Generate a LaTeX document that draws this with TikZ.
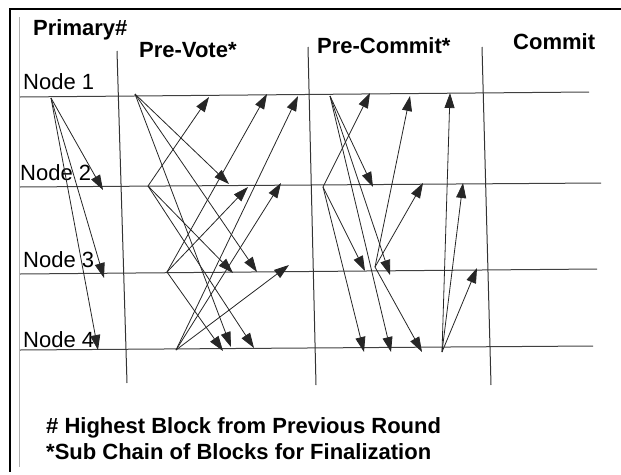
\documentclass[tikz,border=0pt]{standalone}
\usepackage{fontspec}
\setsansfont{Liberation Sans}
\usetikzlibrary{arrows.meta}

\begin{document}
\begin{tikzpicture}[
  x=1pt, y=-1pt,
  font=\sffamily\fontsize{22}{26}\selectfont,
  frame/.style={line width=1.2pt, draw=black},
  inner/.style={line width=1pt, draw=black!30},
  round/.style={line width=1pt, draw=black!75},
  phase/.style={line width=1pt, draw=black!80},
  msg/.style={-{Triangle[length=15pt,width=10pt]}, line width=0.8pt, draw=black!85},
  head/.style={anchor=base west, inner sep=0pt, font=\sffamily\bfseries\fontsize{22}{26}\selectfont},
  lbl/.style={anchor=base west, inner sep=0pt}
]
\useasboundingbox (0,0) rectangle (621,474);

% frame
\draw[frame] (621,9) -- (10,9) -- (10,472);
\draw[inner] (19,17) -- (19,467);

% round lines
\draw[round] (20,97) -- (589,92);
\draw[round] (20,187) -- (601,183);
\draw[round] (20,274) -- (597,269);
\draw[round] (20,350) -- (593,346);

% phase separators
\draw[phase] (117,51) -- (127,383);
\draw[phase] (308,47) -- (316,385);
\draw[phase] (482,47) -- (491,385);

% headings
\node[head] (primary) at (33,35) {Primary\#};
\node[head] (prevote) at (139,57) {Pre-Vote*};
\node[head] (precommit) at (317,53) {Pre-Commit*};
\node[head] (commit) at (513,49) {Commit};

\node[lbl] (n1) at (23,89) {Node 1};
\node[lbl] (n2) at (20,180) {Node 2};
\node[lbl] (n3) at (23,267) {Node 3};
\node[lbl] (n4) at (23,347) {Node 4};

% primary proposal
\coordinate (pr) at (51,98);
\coordinate (pr2) at (103,190);
\coordinate (pr3) at (104,278);
\coordinate (pr4) at (98,350);
\draw[msg] (pr) -- (pr2);
\draw[msg] (pr) -- (pr3);
\draw[msg] (pr) -- (pr4);

% pre-vote
\coordinate (pv1) at (135,94);
\coordinate (pv2) at (148,186);
\coordinate (pv3) at (167,272);
\coordinate (pv4) at (176,350);
\coordinate (pv12) at (229,184);
\coordinate (pv13) at (257,272);
\coordinate (pv14) at (231,347);
\coordinate (pv21) at (209,97);
\coordinate (pv23) at (233,273);
\coordinate (pv24) at (254,348);
\coordinate (pv31) at (267,94);
\coordinate (pv32) at (248,187);
\coordinate (pv34) at (223,351);
\coordinate (pv41) at (298,96);
\coordinate (pv42) at (281,183);
\coordinate (pv43) at (289,265);
\draw[msg] (pv1) -- (pv12);
\draw[msg] (pv1) -- (pv13);
\draw[msg] (pv1) -- (pv14);
\draw[msg] (pv2) -- (pv21);
\draw[msg] (pv2) -- (pv23);
\draw[msg] (pv2) -- (pv24);
\draw[msg] (pv3) -- (pv31);
\draw[msg] (pv3) -- (pv32);
\draw[msg] (pv3) -- (pv34);
\draw[msg] (pv4) -- (pv41);
\draw[msg] (pv4) -- (pv42);
\draw[msg] (pv4) -- (pv43);

% pre-commit
\coordinate (pc1) at (330,96);
\coordinate (pc2) at (323,187);
\coordinate (pc3) at (375,267);
\coordinate (pc4) at (442,352);
\coordinate (pc12) at (373,187);
\coordinate (pc13) at (390,275);
\coordinate (pc14) at (391,352);
\coordinate (pc21) at (370,93);
\coordinate (pc23) at (365,271);
\coordinate (pc24) at (364,352);
\coordinate (pc31) at (410,96);
\coordinate (pc32) at (423,183);
\coordinate (pc34) at (422,352);
\coordinate (pc41) at (450,93);
\coordinate (pc42) at (463,183);
\coordinate (pc43) at (477,268);
\draw[msg] (pc1) -- (pc12);
\draw[msg] (pc1) -- (pc13);
\draw[msg] (pc1) -- (pc14);
\draw[msg] (pc2) -- (pc21);
\draw[msg] (pc2) -- (pc23);
\draw[msg] (pc2) -- (pc24);
\draw[msg] (pc3) -- (pc31);
\draw[msg] (pc3) -- (pc32);
\draw[msg] (pc3) -- (pc34);
\draw[msg] (pc4) -- (pc41);
\draw[msg] (pc4) -- (pc42);
\draw[msg] (pc4) -- (pc43);

% legend
\node[head] (hash) at (46,433) {\# Highest Block from Previous Round};
\node[head] (star) at (46,459) {*Sub Chain of Blocks for Finalization};

\end{tikzpicture}
\end{document}
